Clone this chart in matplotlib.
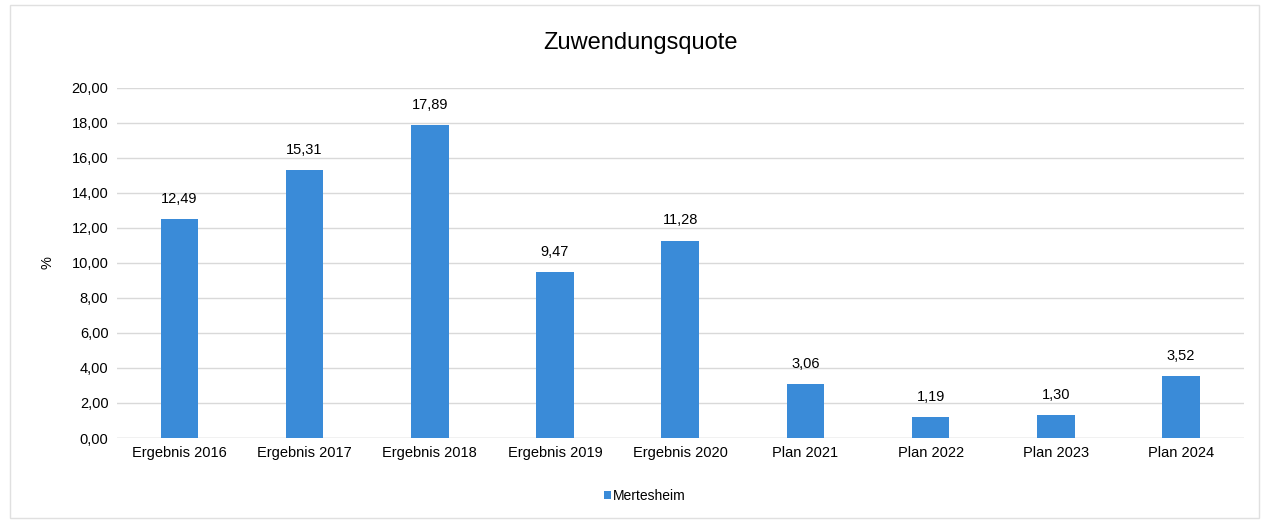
import matplotlib
matplotlib.use('Agg')
import matplotlib.pyplot as plt
from matplotlib.patches import Rectangle

categories = ['Ergebnis 2016', 'Ergebnis 2017', 'Ergebnis 2018', 'Ergebnis 2019', 'Ergebnis 2020',
              'Plan 2021', 'Plan 2022', 'Plan 2023', 'Plan 2024']
values = [12.49, 15.31, 17.89, 9.47, 11.28, 3.06, 1.19, 1.30, 3.52]
series_name = 'Mertesheim'
yticks = [0, 2, 4, 6, 8, 10, 12, 14, 16, 18, 20]

plt.rcParams['font.family'] = ['Liberation Sans', 'DejaVu Sans']

fig = plt.figure(figsize=(12.69, 5.23), dpi=100)
ax = fig.add_axes([0.092, 0.1625, 0.888, 0.6695])

bar_color = '#3a8bd8'
x = range(len(categories))
bars = ax.bar(x, values, width=0.3, color=bar_color, label=series_name, zorder=3)

for xi, v in zip(x, values):
    ax.text(xi, v + 0.75, f'{v:.2f}'.replace('.', ','), ha='center', va='bottom', fontsize=10.5)

ax.set_ylim(0, 20)
ax.set_xlim(-0.5, len(categories) - 0.5)
ax.set_yticks(yticks)
ax.set_yticklabels([f'{t:.2f}'.replace('.', ',') for t in yticks], fontsize=10.5)
ax.set_xticks(list(x))
ax.set_xticklabels(categories, fontsize=10.5)
ax.tick_params(axis='both', length=0, pad=6)
ax.grid(axis='y', color='#d9d9d9', linewidth=1, zorder=0)
for s in ax.spines.values():
    s.set_visible(False)
ax.axhline(0, color='#d9d9d9', linewidth=1, zorder=2)

ax.set_ylabel('%', fontsize=10.5, labelpad=12)
fig.suptitle('Zuwendungsquote', fontsize=17, x=0.505, y=0.918, va='center')

leg = fig.legend(loc='center', bbox_to_anchor=(0.508, 0.052), frameon=False, fontsize=10,
                 handlelength=0.5, handleheight=0.5, handletextpad=0.1)

fig.patches.append(Rectangle((0.008, 0.01), 0.984, 0.98, transform=fig.transFigure,
                             fill=False, edgecolor='#e0e0e0', linewidth=1))

fig.savefig('out.png', dpi=100)
